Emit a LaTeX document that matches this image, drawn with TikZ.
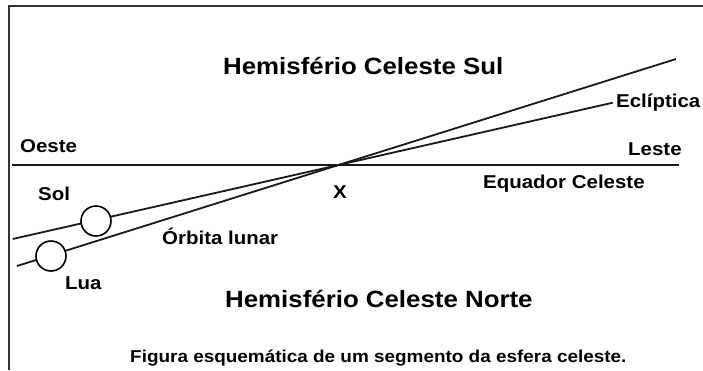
\documentclass[tikz,border=0pt]{standalone}
\usepackage{fontspec}
\setmainfont{Liberation Sans}[FakeStretch=1.1]
\begin{document}
\begin{tikzpicture}[
    x=1pt, y=-1pt,
    sky line/.style={line width=1.8pt, black!90},
    body/.style={circle, draw, line width=1.6pt, fill=white, minimum size=30pt, inner sep=0pt},
    tag/.style={anchor=base west, inner sep=0pt, font=\bfseries\fontsize{18.6}{22}\selectfont},
    title/.style={anchor=base west, inner sep=0pt, font=\bfseries\fontsize{23.5}{28}\selectfont},
    frame/.style={line width=2pt, black!80}
]
\useasboundingbox (0,0) rectangle (703,370);

% Frame (cut off at right and bottom)
\draw[frame] (9,370) -- (9,6) -- (703,6);

% Line ends
\coordinate (eqW) at (12,165);
\coordinate (eqE) at (679,165);
\coordinate (eclW) at (12.7,239);
\coordinate (eclE) at (612.7,102.7);
\coordinate (lunW) at (17,266);
\coordinate (lunE) at (676,59);

% Equator, ecliptic and lunar orbit
\draw[sky line] (eqW) -- (eqE);
\draw[sky line] (eclW) -- (eclE);
\draw[sky line] (lunW) -- (lunE);

% Sun and Moon
\node[body] (sol) at (96,221) {};
\node[body] (lua) at (51,256) {};

% Labels
\node[title] (sul) at (223,74) {Hemisfério Celeste Sul};
\node[title] (norte) at (225,307) {Hemisfério Celeste Norte};
\node[tag] (eclip) at (616,107) {Eclíptica};
\node[tag] (oeste) at (20,152) {Oeste};
\node[tag] (leste) at (628,155) {Leste};
\node[tag] (equador) at (483,188) {Equador Celeste};
\node[tag, anchor=base] (x) at (340,198) {X};
\node[tag] (solname) at (38,200) {Sol};
\node[tag] (orbita) at (162,244) {Órbita lunar};
\node[tag] (luaname) at (65,289) {Lua};
\node[tag, font=\bfseries\fontsize{17.2}{21}\selectfont] (legenda) at (130,362) {Figura esquemática de um segmento da esfera celeste.};

\end{tikzpicture}
\end{document}
